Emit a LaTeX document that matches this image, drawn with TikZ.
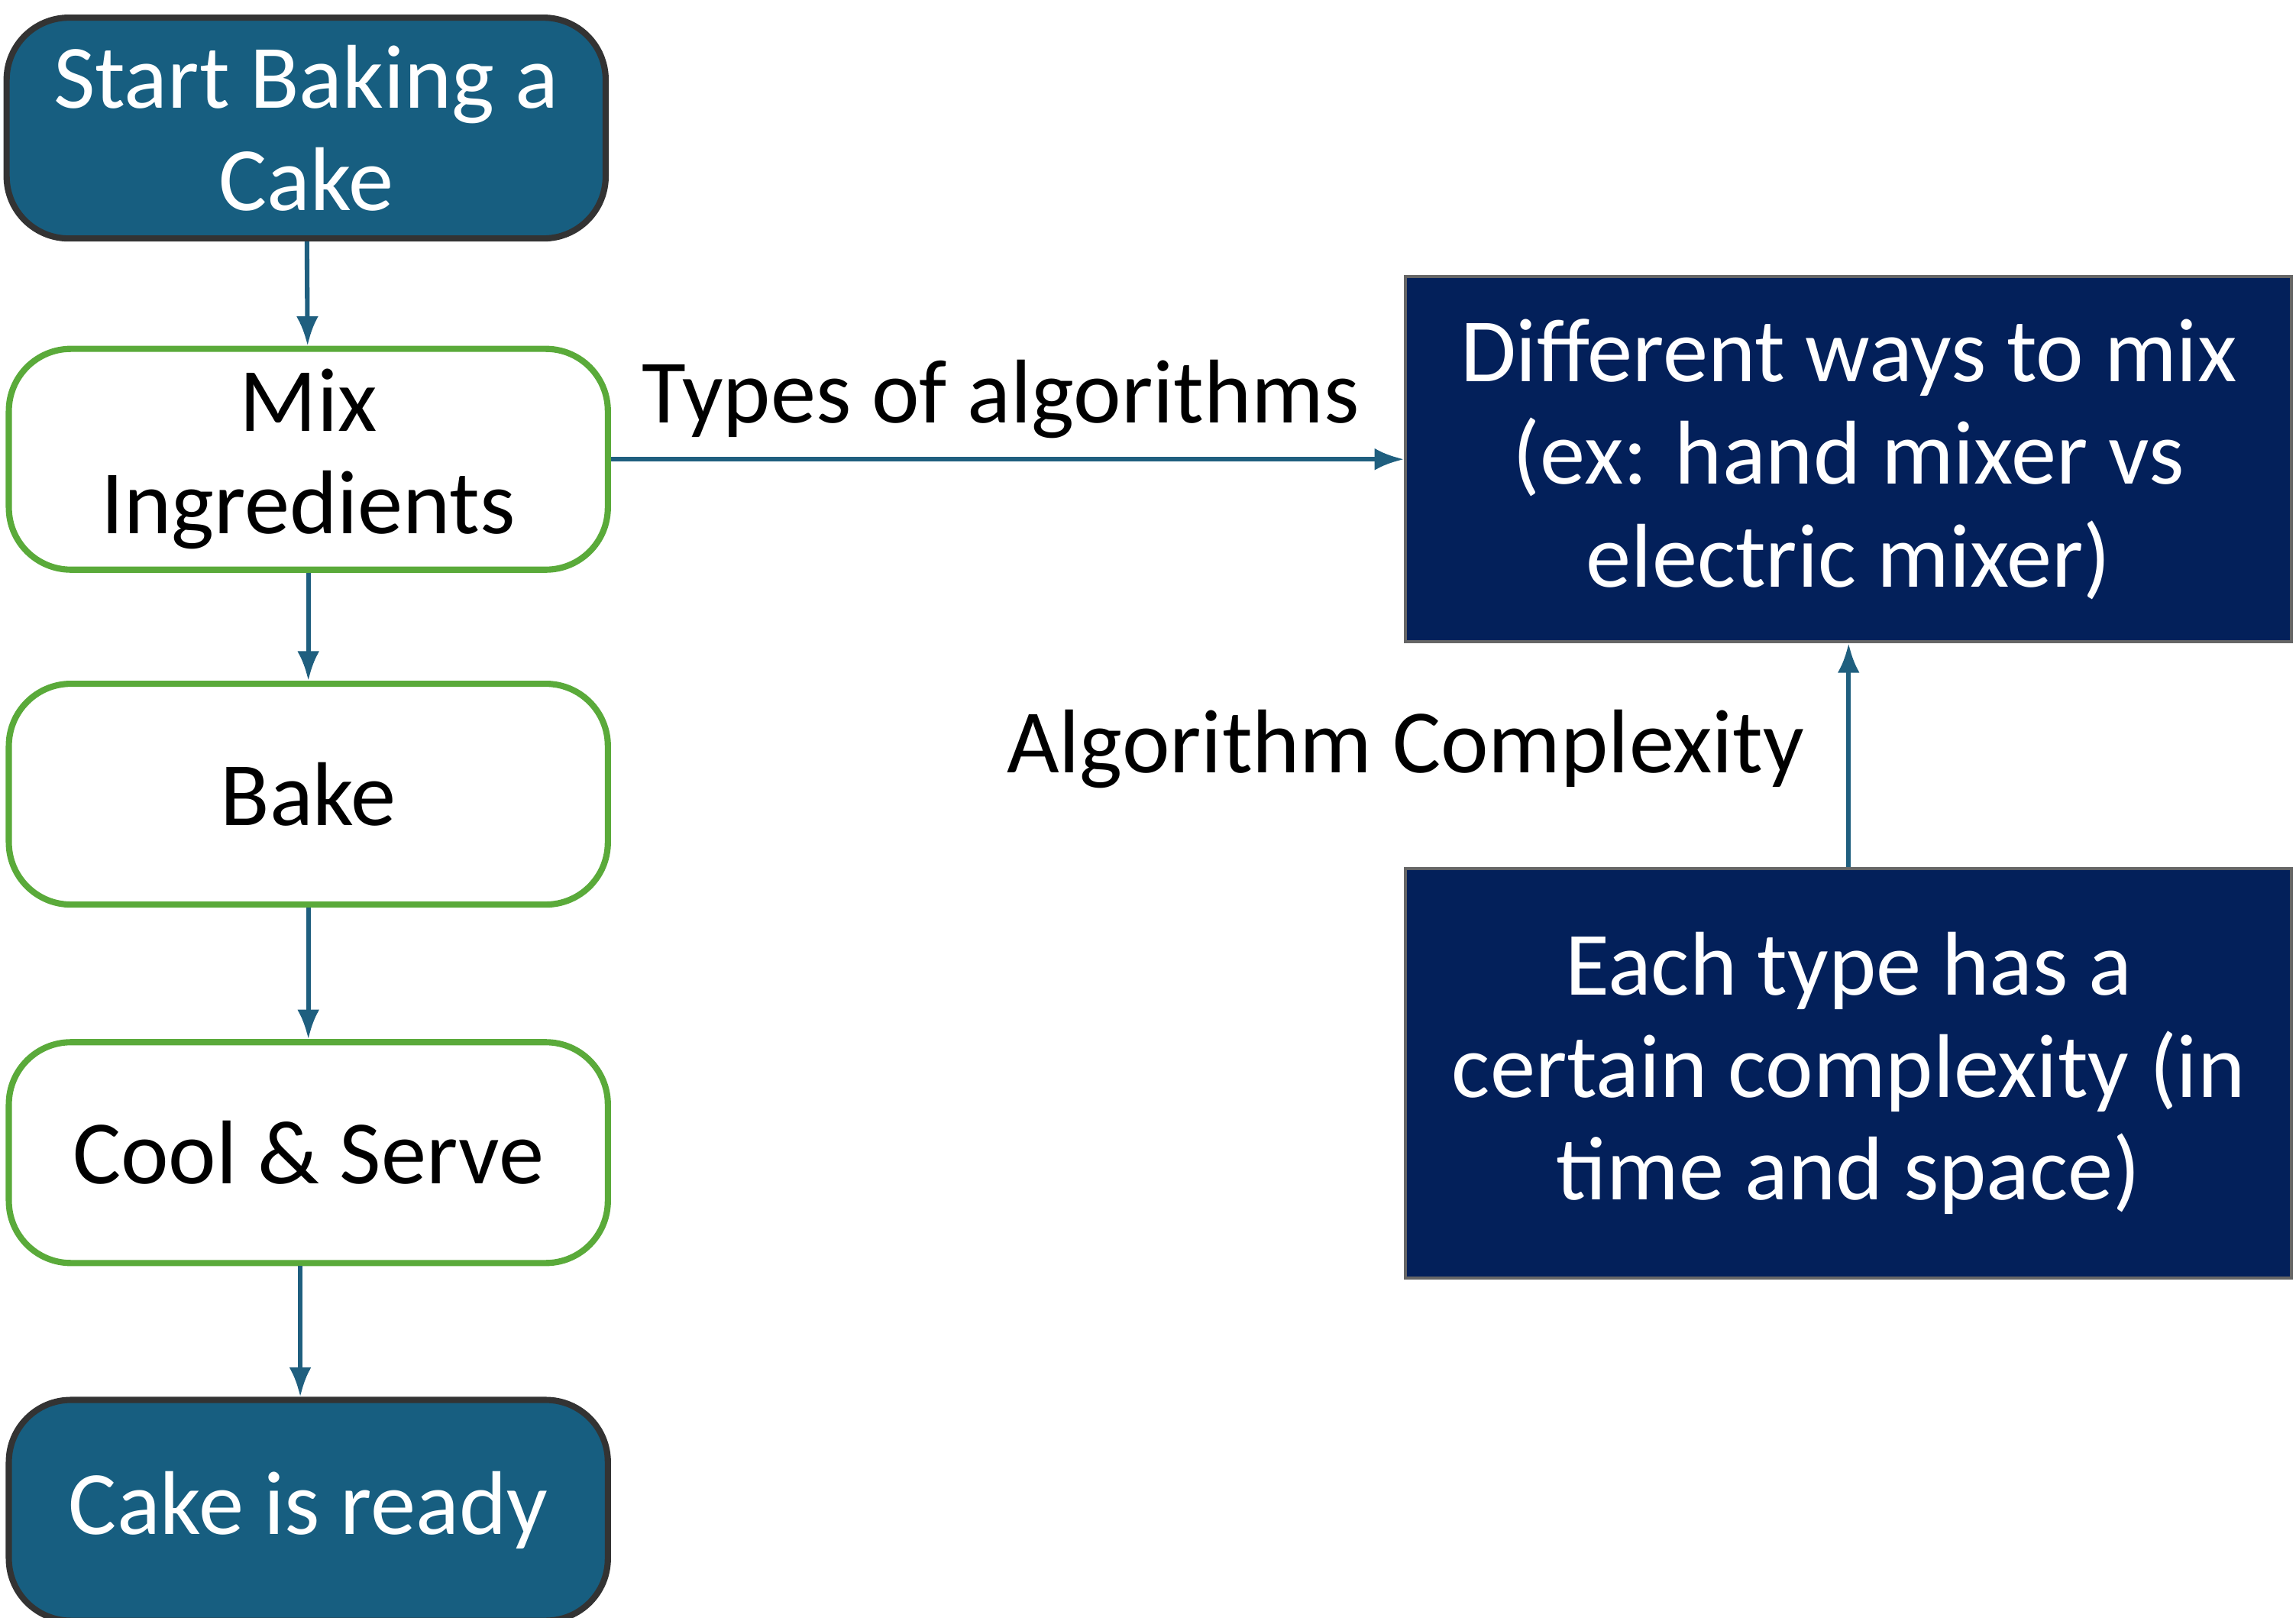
\documentclass[tikz,border=0pt]{standalone}
\usepackage{fontspec}
\setmainfont{Carlito}
\usetikzlibrary{arrows.meta}
\definecolor{tealbox}{HTML}{175E80}
\definecolor{navybox}{HTML}{03205A}
\definecolor{greenline}{HTML}{5AAA3A}
\definecolor{arrowcol}{HTML}{1F5F7F}
\tikzset{>=stealth}
\tikzset{
  stage/.style={draw=greenline, line width=1.2pt, rounded corners=12pt, fill=white,
    minimum width=4.07cm, minimum height=1.5cm, align=center, inner sep=0pt,
    font=\fontsize{17.5}{19.8}\selectfont},
  ends/.style={stage, draw=black!80, fill=tealbox, text=white},
  note/.style={draw=black!60, line width=0.6pt, fill=navybox, text=white,
    minimum width=6.02cm, align=center, inner sep=0pt,
    font=\fontsize{17.5}{19.8}\selectfont},
  flow/.style={-{Latex[length=2mm]}, arrowcol, line width=0.9pt},
  lbl/.style={font=\fontsize{17.5}{19.8}\selectfont}
}
\begin{document}
\begin{tikzpicture}
      \useasboundingbox (0,0) rectangle (15.6,10.99);
      \node[ends] (start) at (2.08,10.12) {Start Baking a\\Cake};
      \node[stage] (mix) at (2.095,7.87) {Mix\\Ingredients};
      \node[stage] (bake) at (2.095,5.595) {Bake};
      \node[stage] (cool) at (2.095,3.16) {Cool \& Serve};
      \node[ends] (ready) at (2.095,0.73) {Cake is ready};
      \node[note, minimum height=2.48cm] (ways) at (12.56,7.87) {Different ways to mix\\(ex: hand mixer vs\\electric mixer)};
      \node[note, minimum height=2.78cm] (each) at (12.56,3.7) {Each type has a\\certain complexity (in\\time and space)};
      \draw[flow] (start) -- (mix);
      \draw[flow] (mix) -- (bake);
      \draw[flow] (bake) -- (cool);
      \draw[flow] (cool.south -| 2.04,0) -- (ready.north -| 2.04,0);
      \draw[flow] (mix) -- (ways);
      \draw[flow] (each) -- (ways);
      \node[lbl] (types) at (6.8,8.28) {Types of algorithms};
      \node[lbl] (cplx) at (9.55,5.9) {Algorithm Complexity};
\end{tikzpicture}
\end{document}
